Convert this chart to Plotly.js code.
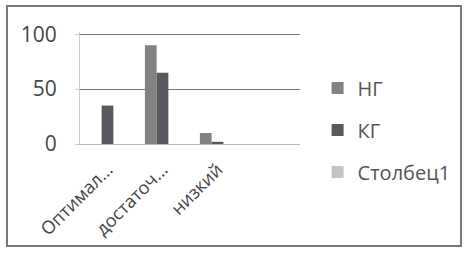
<!DOCTYPE html>
<html><head><meta charset="utf-8">
<script src="https://cdn.plot.ly/plotly-3.0.1.min.js"></script>
<style>body{margin:0;background:#fff}#c{width:468px;height:253px}</style>
</head><body><div id="c"></div>
<script>
const categories = ["Оптимал...", "достаточ...", "низкий", " "];
const seriesNames = ["НГ", "КГ", "Столбец1"];
const ngValues = [0, 90, 10, 0];
const kgValues = [35, 65, 2, 0];
const col1Values = [0, 0, 0, 0];
const yTicks = [0, 50, 100];

const colors = ["#828282", "#58595f", "#c4c4c4"];
const vals = [ngValues, kgValues, col1Values];
const legendIds = ["legend", "legend2", "legend3"];
const traces = vals.map((v, i) => ({
  type: "bar", x: categories, y: v, name: seriesNames[i],
  legend: legendIds[i],
  marker: {color: colors[i], line: {width: 0}}
}));

const legendY = [0.5, 0.125, -0.25];
const mkLegend = (y) => ({x: 1.08, xanchor: "left", y: y, yanchor: "middle",
  font: {size: 20, color: "#555"}, itemwidth: 30, bgcolor: "rgba(0,0,0,0)"});

const layout = {
  width: 468, height: 253,
  margin: {l: 80, r: 168, t: 32, b: 109},
  paper_bgcolor: "#fff", plot_bgcolor: "#fff",
  font: {family: "Open Sans, sans-serif", color: "#444"},
  barmode: "group", bargap: 0.36, bargroupgap: 0,
  xaxis: {type: "category", tickangle: -45, tickfont: {size: 18, color: "#444"},
          showgrid: false, showline: true, linecolor: "#bbb", ticks: "outside",
          ticklen: 7, tickcolor: "rgba(0,0,0,0)", zeroline: false},
  yaxis: {range: [0, 102], tickvals: yTicks, tickfont: {size: 21, color: "#444"},
          showgrid: true, gridcolor: "#777", gridwidth: 1, zeroline: false,
          showline: true, linecolor: "#ccc", ticks: "outside", ticklen: 4, tickcolor: "#ccc",
          ticklabelstandoff: 14},
  showlegend: true,
  legend: mkLegend(legendY[0]),
  legend2: mkLegend(legendY[1]),
  legend3: mkLegend(legendY[2]),
  shapes: [{type: "rect", xref: "paper", yref: "paper",
            x0: -0.332, x1: 1.732, y0: -0.911, y1: 1.232,
            line: {color: "#777", width: 2}, fillcolor: "rgba(0,0,0,0)"}]
};
Plotly.newPlot("c", traces, layout, {staticPlot: true});
</script></body></html>
